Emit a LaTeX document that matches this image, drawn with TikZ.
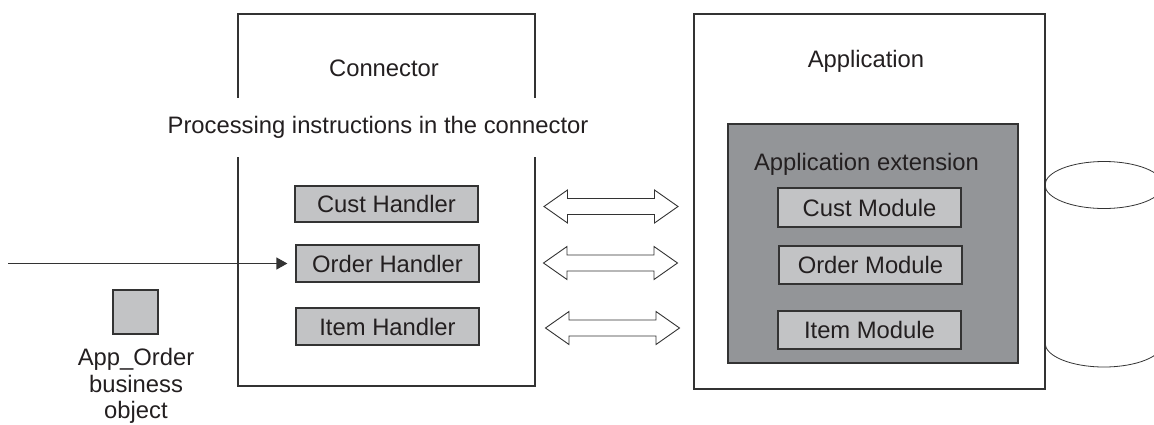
\documentclass[tikz,border=0pt]{standalone}
\usepackage{fontspec}
\setmainfont{Liberation Sans}
\usetikzlibrary{arrows.meta}
\definecolor{lightfill}{HTML}{C2C3C5}
\definecolor{darkfill}{HTML}{939598}
\definecolor{linecol}{HTML}{333333}
\definecolor{txt}{HTML}{231F20}
\tikzset{
  dblarrow/.pic={\draw[line width=0.9pt, draw=linecol, fill=white]
    (-67,0) -- (-43.5,-16.5) -- (-43.5,-8) -- (43.5,-8) -- (43.5,-16.5) -- (67,0)
    -- (43.5,16.5) -- (43.5,8) -- (-43.5,8) -- (-43.5,16.5) -- cycle;}
}
\begin{document}
\begin{tikzpicture}[x=1pt,y=-1pt,
  every node/.style={font=\fontsize{23.8}{26.5}\selectfont, text=txt, inner sep=0pt},
  bigbox/.style={draw=linecol, line width=1.3pt, fill=white, rectangle},
  extbox/.style={draw=linecol, line width=1.3pt, fill=darkfill, rectangle},
  smallbox/.style={draw=linecol, line width=1.3pt, fill=lightfill, rectangle, minimum width=183pt},
  label/.style={anchor=base}
]
\useasboundingbox (0,0) rectangle (1154,424);

% Connector box
\node[bigbox, minimum width=297pt, minimum height=372pt] (conn) at (386.5,200) {};
\node[label] (connlbl) at (384,76.5) {Connector};
\node[fill=white, minimum height=59pt, inner xsep=3pt] (proc) at (378,127.5) {Processing instructions in the connector};

\node[smallbox, minimum height=36pt] (custh) at (386.5,204) {Cust Handler};
\node[smallbox, minimum height=37pt] (ordh) at (387.5,263.5) {Order Handler};
\node[smallbox, minimum height=37pt] (itemh) at (387.5,326.5) {Item Handler};

% Application box
\node[bigbox, minimum width=351pt, minimum height=375pt] (app) at (869.5,201.5) {};
\node[label] (applbl) at (866,67) {Application};
\node[extbox, minimum width=290pt, minimum height=239pt] (ext) at (873,243.5) {};
\node[label] (extlbl) at (866.5,170) {Application extension};
\node[smallbox, minimum height=39pt] (custm) at (869.5,207.5) {Cust Module};
\node[smallbox, minimum height=38pt] (ordm) at (870.5,265) {Order Module};
\node[smallbox, minimum height=38pt] (itemm) at (869.5,330) {Item Module};

% Double arrows
\pic at (611,206.5) {dblarrow};
\pic at (610.5,263) {dblarrow};
\pic at (612.5,328) {dblarrow};

% Incoming arrow
\coordinate (src) at (8,263.5);
\draw[line width=1.3pt, draw=linecol, -{Triangle[length=11pt,width=12pt]}, shorten >=8pt] (src) -- (ordh.west);

% Business object
\node[draw=linecol, line width=1.3pt, fill=lightfill, minimum width=45pt, minimum height=44pt] (bo) at (135.5,312) {};
\node[label] (bo1) at (136,365) {App\_Order};
\node[label] (bo2) at (136,392) {business};
\node[label] (bo3) at (136,418) {object};

% Database cylinder
\begin{scope}
\clip (0,0) rectangle (1154,424);
\draw[line width=0.8pt, draw=linecol] (1104,185) ellipse [x radius=59pt, y radius=23.5pt];
\draw[line width=0.8pt, draw=linecol] (1045,185) -- (1045,343)
  arc[start angle=180, end angle=360, x radius=59pt, y radius=24pt] -- (1163,185);
\end{scope}
\end{tikzpicture}
\end{document}
